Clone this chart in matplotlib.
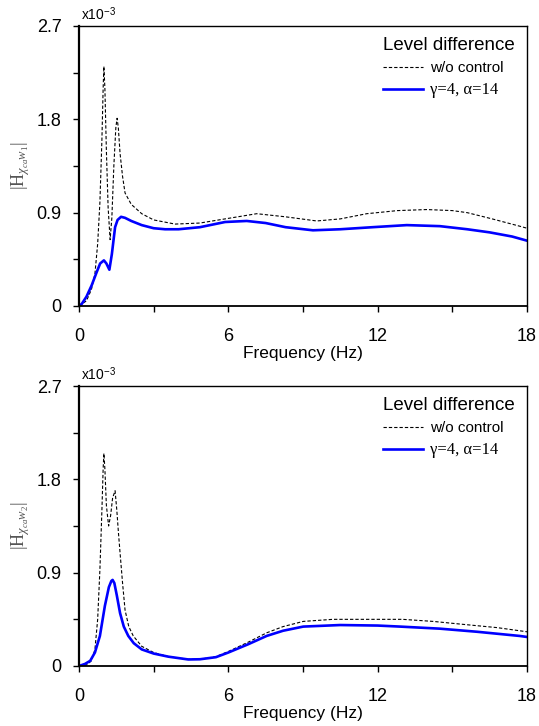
import matplotlib
matplotlib.use("Agg")
import matplotlib.pyplot as plt
from matplotlib.ticker import FixedLocator

plt.rcParams['font.family'] = ['Liberation Sans', 'DejaVu Sans']
plt.rcParams['mathtext.fontset'] = 'custom'
plt.rcParams['mathtext.rm'] = 'Liberation Serif'
plt.rcParams['mathtext.it'] = 'Liberation Serif:italic'

# ---- data (values in units of 1e-3) ----
f_top_ref = [0, 0.3, 0.5, 0.64, 0.75, 0.84, 0.92, 0.97, 1.00, 1.04, 1.1, 1.17, 1.25, 1.32, 1.40,
             1.48, 1.53, 1.58, 1.65, 1.75, 1.85, 2.1, 2.52, 3.0, 3.86, 4.86, 5.87, 7.14, 8.3,
             9.55, 10.5, 11.56, 12.8, 13.97, 15.0, 15.6, 16.6, 17.7, 18]
h_top_ref = [0, 0.05, 0.16, 0.31, 0.6, 1.0, 1.6, 2.1, 2.31, 2.1, 1.5, 0.95, 0.64, 0.85, 1.35,
             1.72, 1.81, 1.72, 1.47, 1.25, 1.09, 0.98, 0.89, 0.83, 0.79, 0.80, 0.84, 0.89, 0.86,
             0.82, 0.84, 0.89, 0.92, 0.93, 0.92, 0.90, 0.84, 0.77, 0.75]

f_top_ctl = [0, 0.11, 0.3, 0.51, 0.7, 0.85, 1.00, 1.1, 1.22, 1.32, 1.45, 1.55, 1.69, 1.85, 2.1,
             2.52, 3.0, 3.46, 4.0, 4.86, 5.87, 6.74, 7.5, 8.3, 9.40, 10.5, 11.8, 13.17, 14.5,
             15.6, 16.5, 17.4, 18]
h_top_ctl = [0, 0.02, 0.09, 0.2, 0.32, 0.41, 0.44, 0.41, 0.35, 0.5, 0.76, 0.83, 0.86, 0.85, 0.82,
             0.78, 0.75, 0.74, 0.74, 0.76, 0.81, 0.82, 0.80, 0.76, 0.73, 0.74, 0.76, 0.78, 0.77,
             0.74, 0.71, 0.67, 0.63]

f_bot_ref = [0, 0.3, 0.5, 0.64, 0.75, 0.84, 0.92, 0.97, 1.00, 1.04, 1.1, 1.19, 1.27, 1.35, 1.45,
             1.52, 1.58, 1.65, 1.75, 1.85, 2.0, 2.18, 2.52, 3.0, 3.6, 4.4, 4.86, 5.5, 6.0, 6.8,
             7.54, 8.2, 9.01, 10.2, 11.56, 13, 14.23, 15.5, 16.8, 17.7, 18]
h_bot_ref = [0, 0.01, 0.05, 0.16, 0.45, 0.93, 1.5, 1.9, 2.05, 1.9, 1.55, 1.35, 1.45, 1.62, 1.69,
             1.5, 1.3, 1.09, 0.8, 0.54, 0.38, 0.29, 0.19, 0.13, 0.09, 0.065, 0.065, 0.09, 0.14,
             0.23, 0.32, 0.38, 0.43, 0.45, 0.45, 0.45, 0.43, 0.40, 0.37, 0.34, 0.33]

f_bot_ctl = [0, 0.24, 0.45, 0.64, 0.84, 1.04, 1.2, 1.3, 1.35, 1.42, 1.52, 1.65, 1.8, 1.98, 2.2,
             2.52, 3.0, 3.59, 4.39, 4.86, 5.5, 6.0, 6.8, 7.54, 8.2, 9.01, 10.49, 12.0, 12.9,
             14.5, 16, 17.7, 18]
h_bot_ctl = [0, 0.02, 0.05, 0.13, 0.29, 0.58, 0.76, 0.82, 0.83, 0.80, 0.68, 0.51, 0.38, 0.29,
             0.22, 0.16, 0.12, 0.09, 0.063, 0.065, 0.085, 0.13, 0.21, 0.29, 0.34, 0.38, 0.395,
             0.39, 0.38, 0.36, 0.33, 0.29, 0.28]

xticks = [0, 6, 12, 18]
yticks = [0, 0.9, 1.8, 2.7]
ytick_labels = ['0', '0.9', '1.8', '2.7']
legend_title = 'Level difference'
labels = ['w/o control', '\u03b3=4, \u03b1=14']
ylabels = [r'$|\mathrm{H}_{\chi_{ca}w_1}|$', r'$|\mathrm{H}_{\chi_{ca}w_2}|$']

fig = plt.figure(figsize=(5.39, 7.26), dpi=100)
W, H = 539, 726
ax1 = fig.add_axes([79 / W, 1 - 306 / H, (527 - 79) / W, 280 / H])
ax2 = fig.add_axes([79 / W, 1 - 666 / H, (527 - 79) / W, 280 / H])

panels = [(ax1, f_top_ref, h_top_ref, f_top_ctl, h_top_ctl, ylabels[0]),
          (ax2, f_bot_ref, h_bot_ref, f_bot_ctl, h_bot_ctl, ylabels[1])]

for ax, fr, hr, fc, hc, yl in panels:
    ax.plot(fr, hr, color='black', lw=0.8, dashes=(3, 1.8), label=labels[0])
    ax.plot(fc, hc, color='#0000ff', lw=1.9, label=labels[1])
    ax.set_xlim(0, 18)
    ax.set_ylim(0, 2.7)
    ax.set_xticks(xticks)
    ax.xaxis.set_minor_locator(FixedLocator([3, 9, 15]))
    ax.set_yticks(yticks)
    ax.set_yticklabels(ytick_labels)
    ax.yaxis.set_minor_locator(FixedLocator([0.45, 1.35, 2.25]))
    ax.tick_params(which='both', direction='out', length=4.5, width=1.0,
                   top=False, right=False, labelsize=13)
    ax.tick_params(axis='x', pad=11)
    ax.tick_params(axis='y', pad=8)
    for s in ax.spines.values():
        s.set_linewidth(1.0)
    ax.spines['left'].set_linewidth(1.6)
    ax.spines['bottom'].set_linewidth(1.3)
    ax.set_xlabel('Frequency (Hz)', fontsize=12.5, labelpad=1)
    ax.set_ylabel(yl, fontsize=13, color='#555555', labelpad=3)
    ax.text(0.005, 1.01, 'x10$^{\\mathregular{-3}}$', transform=ax.transAxes,
            fontsize=10, ha='left', va='bottom')
    leg = ax.legend(loc='upper right', frameon=False, title=legend_title,
                    title_fontsize=13.5, fontsize=11, handlelength=2.6,
                    borderaxespad=0.25, labelspacing=0.45, handletextpad=0.5,
                    bbox_to_anchor=(0.995, 0.995))
    leg._legend_box.align = 'left'
    leg.get_texts()[1].set_family('Liberation Serif')
    leg.get_texts()[1].set_fontsize(12)

fig.savefig('out.png', dpi=100)
